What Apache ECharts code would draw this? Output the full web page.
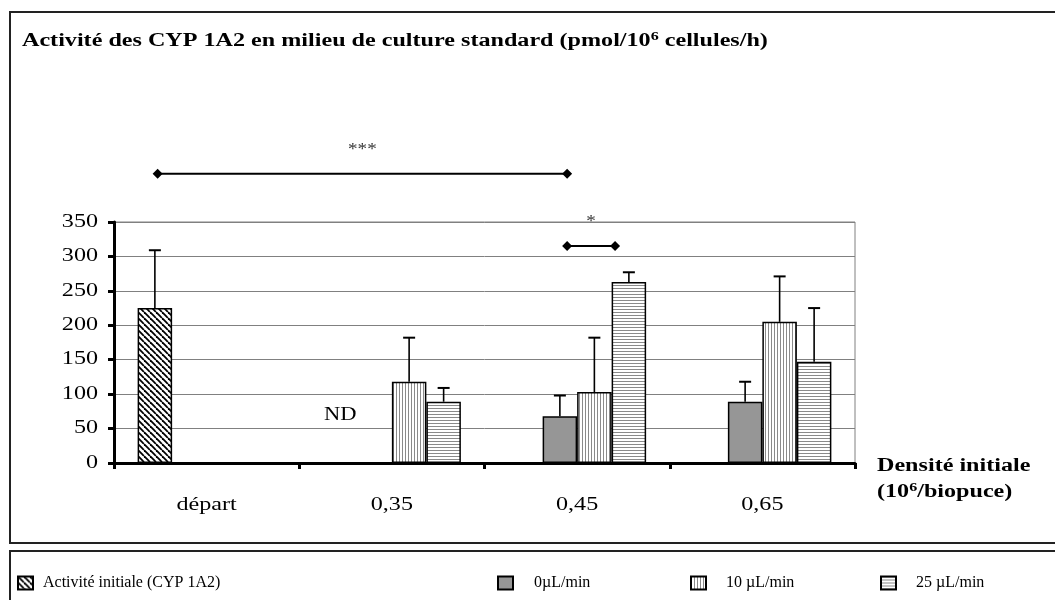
<!DOCTYPE html>
<html>
<head>
<meta charset="utf-8">
<script src="https://cdn.jsdelivr.net/npm/echarts@6/dist/echarts.min.js"></script>
<style>
  html, body { margin: 0; padding: 0; background: #fff; }
  #chart { width: 1055px; height: 600px; }
</style>
</head>
<body>
<div id="chart"></div>
<script>
// Categories (initial seeding density, 10^6 cells per biochip)
const categories = ['départ', '0,35', '0,45', '0,65'];
const seriesNames = ['Activité initiale (CYP 1A2)', '0µL/min', '10 µL/min', '25 µL/min'];

// Mean CYP 1A2 activity (pmol/10^6 cells/h); null = not determined / not applicable
const initialActivity = [225, null, null, null];
const flow0 = [null, null, 68, 89];
const flow10 = [null, 118, 103, 205];
const flow25 = [null, 89, 263, 147];

// Standard deviations (upper error bars)
const initialSd = [84, null, null, null];
const flow0Sd = [null, null, 30, 29];
const flow10Sd = [null, 64, 79, 66];
const flow25Sd = [null, 20, 14, 78];

// Value-axis tick labels
const yTickValues = [0, 50, 100, 150, 200, 250, 300, 350];

const FONT = "'Liberation Serif', 'Times New Roman', serif";
const BAR_W = 34.5;
const WIDE = 1.34;          // horizontal stretch of the chart lettering
const TXT = 18;

// ---- fill patterns ----
function makePattern(draw, w, h) {
  const c = document.createElement('canvas');
  c.width = w; c.height = h;
  const ctx = c.getContext('2d');
  ctx.fillStyle = '#fff';
  ctx.fillRect(0, 0, w, h);
  draw(ctx, w, h);
  return { image: c, repeat: 'repeat' };
}
const hatchFill = makePattern((ctx, w, h) => {
  ctx.strokeStyle = '#000';
  ctx.lineWidth = 1.8;
  for (let k = -1; k <= 1; k++) {
    ctx.beginPath();
    ctx.moveTo(k * w, 0);
    ctx.lineTo(k * w + w, h);
    ctx.stroke();
  }
}, 6, 6);
const vStripeFill = makePattern((ctx, w, h) => {
  ctx.fillStyle = '#8a8a8a';
  ctx.fillRect(0, 0, 1, h);
}, 3, 3);
const hStripeFill = makePattern((ctx, w, h) => {
  ctx.fillStyle = '#8a8a8a';
  ctx.fillRect(0, 0, w, 1);
}, 3, 3);

const fills = [hatchFill, '#969696', vStripeFill, hStripeFill];
const values = [initialActivity, flow0, flow10, flow25];
const sds = [initialSd, flow0Sd, flow10Sd, flow25Sd];

// error-bar items: [category, mean, mean+sd, slot]
const errorItems = [];
values.forEach((arr, s) => {
  arr.forEach((v, i) => {
    if (v != null && sds[s][i] != null) errorItems.push([i, v, v + sds[s][i], s]);
  });
});

// significance brackets: [category, slot start, category, slot end, level, label]
const brackets = [
  [0, 0.08, 2, 1.21, 420, '***'],
  [2, 1.21, 2, 2.6, 315, '*']
];

function slotX(api, cat, slot, val) {
  const c = api.coord([cat, val]);
  return [c[0] + (slot - 1.5) * BAR_W, c[1]];
}

const barSeries = seriesNames.map((name, s) => ({
  name: name,
  type: 'bar',
  data: values[s].map(v => (v == null ? '-' : v)),
  barWidth: BAR_W,
  barGap: '0%',
  itemStyle: { color: fills[s], borderColor: '#000', borderWidth: 1.5 },
  emphasis: { disabled: true },
  z: 3
}));

const legendPos = [12, 492, 685, 875];
const legendPad = [5, 16, 15, 15];

const boldRich = {
  b: { fontFamily: FONT, fontWeight: 'bold', fontSize: TXT, fill: '#000' },
  s: { fontFamily: FONT, fontWeight: 'bold', fontSize: 12, fill: '#000', padding: [0, 0, 9, 0] }
};

const option = {
  animation: false,
  backgroundColor: '#fff',
  textStyle: { fontFamily: FONT },
  legend: seriesNames.map((n, k) => ({
    data: [n],
    left: legendPos[k],
    top: 570,
    itemWidth: 15,
    itemHeight: 13,
    icon: 'rect',
    selectedMode: false,
    textStyle: { fontFamily: FONT, fontSize: 16, color: '#000', padding: [0, 0, 0, legendPad[k]] }
  })),
  grid: { left: 114, right: 200, top: 222, bottom: 137, show: true, borderColor: '#808080', borderWidth: 1 },
  xAxis: {
    type: 'category',
    data: categories,
    axisLine: { lineStyle: { color: '#000', width: 3 } },
    axisTick: { show: true, length: 6, lineStyle: { color: '#000', width: 3 } },
    axisLabel: { show: false }
  },
  yAxis: {
    type: 'value',
    min: 0, max: 350, interval: 50,
    axisLine: { show: true, lineStyle: { color: '#000', width: 3 } },
    axisTick: { show: true, length: 6, lineStyle: { color: '#000', width: 3 } },
    axisLabel: { show: false },
    splitLine: { lineStyle: { color: '#808080', width: 1 } }
  },
  graphic: [
    { type: 'rect', shape: { x: 10, y: 12, width: 1060, height: 531 }, style: { fill: null, stroke: '#222', lineWidth: 2 }, z: 0, silent: true },
    { type: 'rect', shape: { x: 10, y: 551, width: 1060, height: 60 }, style: { fill: null, stroke: '#222', lineWidth: 2 }, z: 0, silent: true },
    {
      type: 'text', x: 22, y: 41, scaleX: WIDE, silent: true,
      style: {
        text: '{b|Activité des CYP 1A2 en milieu de culture standard (pmol/10}{s|6}{b| cellules/h)}',
        rich: boldRich, textVerticalAlign: 'middle'
      }
    },
    {
      type: 'text', x: 877, y: 466, scaleX: WIDE, silent: true,
      style: { text: '{b|Densité initiale}', rich: boldRich, textVerticalAlign: 'middle' }
    },
    {
      type: 'text', x: 877, y: 492, scaleX: WIDE, silent: true,
      style: { text: '{b|(10}{s|6}{b|/biopuce)}', rich: boldRich, textVerticalAlign: 'middle' }
    }
  ],
  series: barSeries.concat([
    {
      // category labels under the axis
      type: 'custom',
      name: 'xlabels',
      clip: false,
      silent: true,
      data: categories.map((c, i) => [i, 0]),
      encode: { x: 0, y: 1 },
      renderItem: function (params, api) {
        const p = api.coord([api.value(0), 0]);
        return {
          type: 'text', x: p[0], y: p[1] + 42, scaleX: WIDE,
          style: { x: 0, y: 0, text: categories[params.dataIndex], fill: '#000', font: TXT + 'px ' + FONT, textAlign: 'center', textVerticalAlign: 'middle' }
        };
      }
    },
    {
      // value labels left of the axis
      type: 'custom',
      name: 'ylabels',
      clip: false,
      silent: true,
      data: yTickValues.map(v => [0, v]),
      encode: { x: 0, y: 1 },
      renderItem: function (params, api) {
        const p = api.coord([0, api.value(1)]);
        return {
          type: 'text', x: params.coordSys.x - 16, y: p[1], scaleX: WIDE,
          style: { x: 0, y: 0, text: String(yTickValues[params.dataIndex]), fill: '#000', font: TXT + 'px ' + FONT, textAlign: 'right', textVerticalAlign: 'middle' }
        };
      }
    },
    {
      type: 'custom',
      name: 'errors',
      clip: false,
      silent: true,
      z: 4,
      data: errorItems,
      encode: { x: 0, y: 1 },
      renderItem: function (params, api) {
        const cat = api.value(0), s = api.value(3);
        const p0 = slotX(api, cat, s, api.value(1));
        const p1 = slotX(api, cat, s, api.value(2));
        return {
          type: 'group',
          children: [
            { type: 'line', shape: { x1: p0[0], y1: p0[1], x2: p1[0], y2: p1[1] }, style: { stroke: '#000', lineWidth: 1.6 } },
            { type: 'line', shape: { x1: p1[0] - 6, y1: p1[1], x2: p1[0] + 6, y2: p1[1] }, style: { stroke: '#000', lineWidth: 2 } }
          ]
        };
      }
    },
    {
      type: 'custom',
      name: 'significance',
      clip: false,
      silent: true,
      z: 4,
      data: brackets,
      encode: { x: 0, y: 4 },
      renderItem: function (params, api) {
        const a = slotX(api, api.value(0), api.value(1), api.value(4));
        const b = slotX(api, api.value(2), api.value(3), api.value(4));
        const label = brackets[params.dataIndex][5];
        const dia = (p) => ({
          type: 'polygon',
          shape: { points: [[p[0] - 5, p[1]], [p[0], p[1] - 5], [p[0] + 5, p[1]], [p[0], p[1] + 5]] },
          style: { fill: '#000' }
        });
        return {
          type: 'group',
          children: [
            { type: 'line', shape: { x1: a[0], y1: a[1], x2: b[0], y2: b[1] }, style: { stroke: '#000', lineWidth: 2 } },
            dia(a), dia(b),
            {
              type: 'text', x: (a[0] + b[0]) / 2, y: a[1] - 24, scaleX: 1.2,
              style: { x: 0, y: 0, text: label, fill: '#333', font: '16px ' + FONT, textAlign: 'center', textVerticalAlign: 'middle' }
            }
          ]
        };
      }
    },
    {
      type: 'custom',
      name: 'nd',
      clip: false,
      silent: true,
      z: 4,
      data: [[1, 70]],
      encode: { x: 0, y: 1 },
      renderItem: function (params, api) {
        const p = slotX(api, api.value(0), 0, api.value(1));
        return {
          type: 'text', x: p[0], y: p[1], scaleX: 1.25,
          style: { x: 0, y: 0, text: 'ND', fill: '#000', font: TXT + 'px ' + FONT, textAlign: 'center', textVerticalAlign: 'middle' }
        };
      }
    }
  ])
};

const chart = echarts.init(document.getElementById('chart'), null, { renderer: 'canvas' });
chart.setOption(option);
</script>
</body>
</html>
